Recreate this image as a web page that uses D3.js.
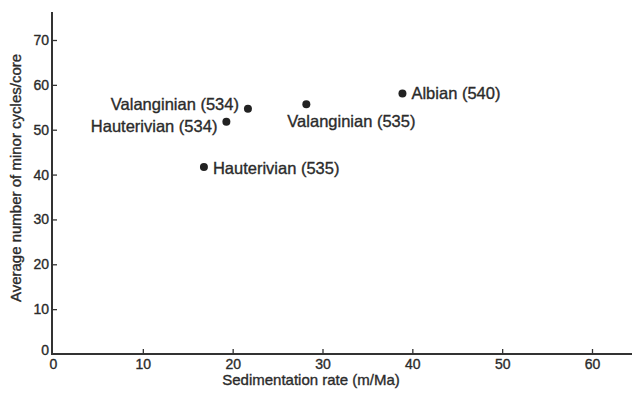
<!DOCTYPE html>
<html>
<head>
<meta charset="utf-8">
<script src="https://cdn.jsdelivr.net/npm/d3@7"></script>
<style>
  body { margin: 0; background: #fff; }
  text { font-family: "Liberation Sans", Arial, sans-serif; fill: #2b2b2b; stroke: #2b2b2b; stroke-width: 0.35px; }
</style>
</head>
<body>
<div id="chart"></div>
<script>
// data
const labels = ["Valanginian (534)", "Hauterivian (534)", "Valanginian (535)", "Hauterivian (535)", "Albian (540)"];
const sedRate = [21.7, 19.3, 28.2, 16.8, 38.9];
const cycles = [54.7, 51.8, 55.7, 41.7, 58.1];
// which side of the dot the label sits on
const side = ["left", "left", "below", "right", "right"];
const xTicks = [0, 10, 20, 30, 40, 50, 60];
const yTicks = [0, 10, 20, 30, 40, 50, 60, 70];

const width = 633, height = 396;

let svg = d3.select("#chart").append("svg")
    .attr("width", width)
    .attr("height", height);

let x = d3.scaleLinear().domain([0, 60]).range([53, 592]);
let y = d3.scaleLinear().domain([0, 70]).range([354, 40]);

// axes lines
svg.append("line")
    .attr("x1", x(0) - 1).attr("x2", 632)
    .attr("y1", y(0)).attr("y2", y(0))
    .attr("stroke", "#333").attr("stroke-width", 2);
svg.append("line")
    .attr("x1", x(0) - 1).attr("x2", x(0) - 1)
    .attr("y1", y(0) + 1).attr("y2", 12)
    .attr("stroke", "#333").attr("stroke-width", 2);

let xAxis = svg.append("g")
    .attr("transform", `translate(0,${y(0)})`)
    .call(d3.axisBottom(x).tickValues(xTicks).tickSize(-5));
xAxis.select(".domain").remove();
xAxis.selectAll(".tick line").attr("stroke", "#333").attr("stroke-width", 1.3);
xAxis.selectAll(".tick text")
    .attr("y", 11)
    .attr("dy", "0.32em")
    .style("font-size", "14px")
    .attr("fill", "#2b2b2b");
xAxis.selectAll(".tick").filter(d => d === 0).select("line").remove();

let yAxis = svg.append("g")
    .attr("transform", `translate(${x(0) - 1},0)`)
    .call(d3.axisLeft(y).tickValues(yTicks).tickSize(-5));
yAxis.select(".domain").remove();
yAxis.selectAll(".tick line").attr("stroke", "#333").attr("stroke-width", 1.3);
yAxis.selectAll(".tick text")
    .attr("x", -3)
    .style("font-size", "14px")
    .attr("fill", "#2b2b2b");
yAxis.selectAll(".tick").filter(d => d === 0).select("line").remove();
yAxis.selectAll(".tick").filter(d => d === 0).select("text").attr("dy", "0.05em");

// titles
svg.append("text")
    .attr("x", 311)
    .attr("y", 380)
    .attr("dy", "0.35em")
    .attr("text-anchor", "middle")
    .style("font-size", "15px")
    .text("Sedimentation rate (m/Ma)");

svg.append("text")
    .attr("transform", "translate(16,178) rotate(-90)")
    .attr("dy", "0.35em")
    .attr("text-anchor", "middle")
    .style("font-size", "15px")
    .text("Average number of minor cycles/core");

// points
let pts = labels.map((l, i) => ({ label: l, sx: sedRate[i], cy: cycles[i], side: side[i], i: i }));

svg.selectAll(".dot")
    .data(pts)
    .enter()
    .append("circle")
    .attr("class", "dot")
    .attr("cx", d => x(d.sx))
    .attr("cy", d => y(d.cy))
    .attr("r", 4)
    .attr("fill", "#222");

// small vertical nudges so the two left-hand labels don't collide
const nudge = [-4, 5, 17, 1, 0];

svg.selectAll(".pt-label")
    .data(pts)
    .enter()
    .append("text")
    .attr("class", "pt-label")
    .attr("x", d => d.side === "left" ? x(d.sx) - 9 : d.side === "right" ? x(d.sx) + 9 : x(d.sx) - 19)
    .attr("y", d => y(d.cy) + nudge[d.i])
    .attr("dy", "0.35em")
    .attr("text-anchor", d => d.side === "left" ? "end" : "start")
    .style("font-size", "16.5px")
    .text(d => d.label);
</script>
</body>
</html>
